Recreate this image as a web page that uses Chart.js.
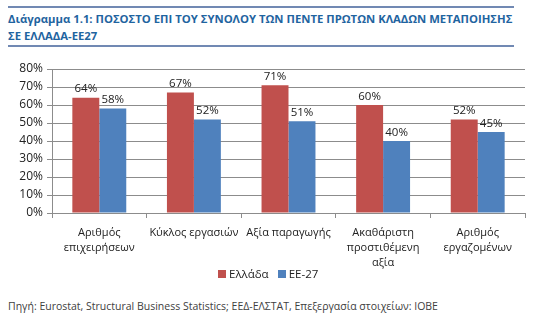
<!DOCTYPE html>
<html>
<head>
<meta charset="utf-8">
<script src="https://cdn.jsdelivr.net/npm/chart.js@4/dist/chart.umd.min.js"></script>
<style>
  body { margin: 0; background: #fff; width: 551px; height: 326px; position: relative; overflow: hidden; font-family: "Open Sans", sans-serif; }
  #titulo { position: absolute; left: 8px; top: 6px; width: 506px; border-top: 2px solid #7189b3; border-bottom: 2px solid #7189b3;
    color: #1f64a0; font-weight: bold; font-size: 12px; line-height: 17px; padding: 2px 0 1px 0; white-space: nowrap; }
  #titulo span { display: inline-block; }
  #caixa { position: absolute; left: 0; top: 55px; width: 551px; height: 220px; }
  #legenda { position: absolute; left: 218px; top: 266px; font-size: 11.5px; color: #222; line-height: 16px; white-space: nowrap; }
  #legenda i { display: inline-block; width: 8px; height: 8px; margin-right: 3px; vertical-align: -0px; }
  #legenda b { font-weight: normal; margin-right: 9px; }
  #fonte { position: absolute; left: 8px; top: 299px; font-size: 10.5px; color: #404040; white-space: nowrap; }
</style>
</head>
<body>
<div id="titulo"><span id="linha1">Διάγραμμα 1.1: ΠΟΣΟΣΤΟ ΕΠΙ ΤΟΥ ΣΥΝΟΛΟΥ ΤΩΝ ΠΕΝΤΕ ΠΡΩΤΩΝ ΚΛΑΔΩΝ ΜΕΤΑΠΟΙΗΣΗΣ</span><br>ΣΕ ΕΛΛΑΔΑ-ΕΕ27</div>
<div id="caixa"><canvas id="grafico"></canvas></div>
<div id="legenda"></div>
<div id="fonte">Πηγή: Eurostat, Structural Business Statistics; ΕΕΔ-ΕΛΣΤΑΤ, Επεξεργασία στοιχείων: IOBE</div>
<script>
// categorias
const categorias = [
  ["Αριθμός", "επιχειρήσεων"],
  "Κύκλος εργασιών",
  "Αξία παραγωγής",
  ["Ακαθάριστη", "προστιθέμενη", "αξία"],
  ["Αριθμός", "εργαζομένων"]
];

// valores (%)
const ellada = [64, 67, 71, 60, 52];
const ee27 = [58, 52, 51, 40, 45];

const series = ["Ελλάδα", "ΕΕ-27"];
const cores = ["#c0504d", "#4f81bd"];

const fonte = "'Open Sans', sans-serif";

// ajusta o título pra caber na linha
const titulo = document.getElementById("titulo");
const linha1 = document.getElementById("linha1");
const larg = linha1.getBoundingClientRect().width;
titulo.style.fontSize = (12 * 505 / larg).toFixed(2) + "px";

// legenda
document.getElementById("legenda").innerHTML = series
  .map((s, i) => `<i style="background:${cores[i]}"></i><b>${s}</b>`)
  .join("");

// rótulos em cima das barras
const rotulos = {
  id: "rotulos",
  afterDatasetsDraw(chart) {
    const ctx = chart.ctx;
    ctx.save();
    ctx.font = "11.5px " + fonte;
    ctx.fillStyle = "#222";
    ctx.textAlign = "center";
    ctx.textBaseline = "bottom";
    chart.data.datasets.forEach((ds, i) => {
      chart.getDatasetMeta(i).data.forEach((bar, j) => {
        ctx.fillText(ds.data[j] + "%", bar.x, bar.y - 3);
      });
    });
    ctx.restore();
  }
};

new Chart(document.getElementById("grafico"), {
  type: "bar",
  data: {
    labels: categorias,
    datasets: [
      { label: series[0], data: ellada, backgroundColor: cores[0], barPercentage: 1, categoryPercentage: 0.57 },
      { label: series[1], data: ee27, backgroundColor: cores[1], barPercentage: 1, categoryPercentage: 0.57 }
    ]
  },
  options: {
    responsive: true,
    maintainAspectRatio: false,
    animation: false,
    layout: { padding: { left: 0, right: 26, top: 14, bottom: 0 } },
    plugins: {
      legend: { display: false },
      tooltip: { enabled: false }
    },
    scales: {
      y: {
        min: 0,
        max: 80,
        ticks: { stepSize: 10, callback: v => v + "%", color: "#222", font: { family: fonte, size: 12 }, padding: 4 },
        grid: { color: "#8c8c8c", tickLength: 5 },
        border: { color: "#8c8c8c" },
        afterFit: s => { s.width = 52; }
      },
      x: {
        ticks: { color: "#222", font: { family: fonte, size: 11, lineHeight: 1.36 }, maxRotation: 0, autoSkip: false, padding: 7 },
        grid: { offset: true, drawOnChartArea: false, color: "#8c8c8c", tickLength: 5 },
        border: { color: "#8c8c8c" },
        afterFit: s => { s.height = 62; }
      }
    }
  },
  plugins: [rotulos]
});
</script>
</body>
</html>
